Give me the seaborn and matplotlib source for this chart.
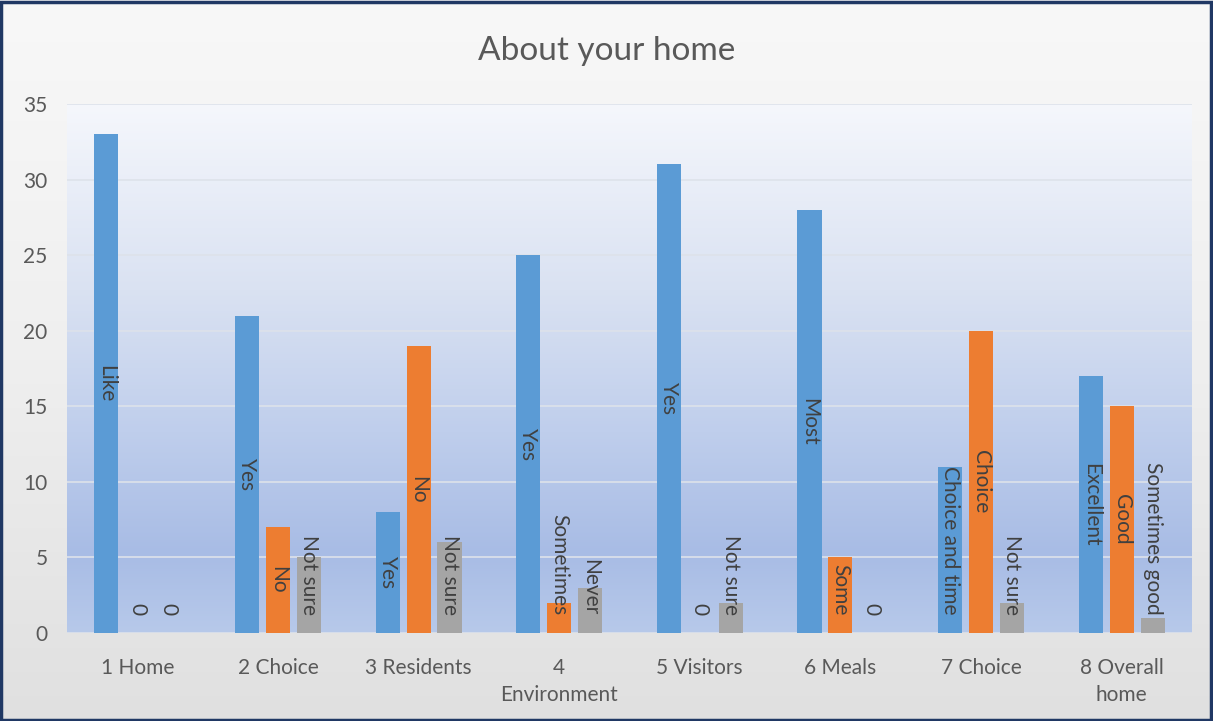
import numpy as np
import pandas as pd
import matplotlib
matplotlib.use("Agg")
import matplotlib.pyplot as plt
import seaborn as sns
from matplotlib.colors import LinearSegmentedColormap
from matplotlib.patches import Rectangle

# ---- data ----
categories = ["1 Home", "2 Choice", "3 Residents", "4\nEnvironment",
              "5 Visitors", "6 Meals", "7 Choice", "8 Overall\nhome"]
series_names = ["Series 1", "Series 2", "Series 3"]
values_1 = [33, 21, 8, 25, 31, 28, 11, 17]
values_2 = [0, 7, 19, 2, 0, 5, 20, 15]
values_3 = [0, 5, 6, 3, 2, 0, 2, 1]
labels_1 = ["Like", "Yes", "Yes", "Yes", "Yes", "Most", "Choice and time", "Excellent"]
labels_2 = ["0", "No", "No", "Sometimes", "0", "Some", "Choice", "Good"]
labels_3 = ["0", "Not sure", "Not sure", "Never", "Not sure", "0", "Not sure", "Sometimes good"]
colors = ["#5B9BD5", "#ED7D31", "#A5A5A5"]
title = "About your home"
yticks = [0, 5, 10, 15, 20, 25, 30, 35]

rows = []
for name, vals in zip(series_names, [values_1, values_2, values_3]):
    for c, v in zip(categories, vals):
        rows.append({"category": c, "series": name, "value": v})
df = pd.DataFrame(rows)

sns.set_style("white")
plt.rcParams["font.family"] = ["Lato", "DejaVu Sans"]

W, H = 1213, 721
fig = plt.figure(figsize=(W / 100, H / 100), dpi=100)

# figure background gradient
bg = fig.add_axes([0, 0, 1, 1])
bg.set_zorder(-10)
bg_cmap = LinearSegmentedColormap.from_list("bg", ["#f8f8f8", "#efefef", "#e0e0e0"])
bg.imshow(np.linspace(0, 1, 256).reshape(-1, 1), cmap=bg_cmap, aspect="auto",
          extent=(0, 1, 0, 1), origin="upper")
bg.axis("off")
bg.add_patch(Rectangle((0.001, 0.002), 0.997, 0.995, transform=bg.transAxes,
                       fill=False, edgecolor="#203864", linewidth=2.5))

left, right, top, bottom = 67, 1192, 104, 633
ax = fig.add_axes([left / W, (H - bottom) / H, (right - left) / W, (bottom - top) / H])
ax.patch.set_alpha(0)

sns.barplot(data=df, x="category", y="value", hue="series", palette=colors,
            width=0.66, gap=0.224, saturation=1, legend=False, ax=ax,
            errorbar=None, linewidth=0, edgecolor="none")

ax.set_xlim(-0.5, len(categories) - 0.5)
ax.set_ylim(0, 35)

# plot area gradient
pa_cmap = LinearSegmentedColormap.from_list(
    "pa", [(0.0, "#f5f7fc"), (0.35, "#dae2f2"), (0.62, "#bfceec"),
           (0.85, "#a8bce5"), (1.0, "#b7c9ea")])
ax.imshow(np.linspace(0, 1, 256).reshape(-1, 1), cmap=pa_cmap, aspect="auto",
          extent=(-0.5, len(categories) - 0.5, 0, 35), origin="upper", zorder=0.1)
ax.set_xlim(-0.5, len(categories) - 0.5)
ax.set_ylim(0, 35)

ax.set_yticks(yticks)
ax.yaxis.grid(True, color="#dde2ea", linewidth=1.2, zorder=0.5)
ax.xaxis.grid(False)
ax.set_axisbelow(True)
for s in ax.spines.values():
    s.set_visible(False)
ax.tick_params(axis="both", length=0, colors="#595959", labelsize=15)
ax.tick_params(axis="y", pad=14)
ax.tick_params(axis="x", pad=18)
ax.set_xlabel("")
ax.set_ylabel("")
for lbl in ax.get_xticklabels():
    lbl.set_linespacing(1.45)

fig.text(0.5, 1 - 51 / H, title, ha="center", va="center", fontsize=24, color="#595959")

# data labels
fig.canvas.draw()
r = fig.canvas.get_renderer()
ppu = ax.transData.transform((0, 1))[1] - ax.transData.transform((0, 0))[1]
for cont, labs in zip(ax.containers, [labels_1, labels_2, labels_3]):
    for bar, lab in zip(cont, labs):
        x = bar.get_x() + bar.get_width() / 2
        h = bar.get_height()
        t = ax.text(x, h / 2, lab, rotation=270, ha="center", va="center",
                    fontsize=15, color="#404040", zorder=5)
        ext = t.get_window_extent(r)
        half = ext.height / 2 / ppu
        pad = 18 / ppu
        t.set_y(max(h / 2, half + pad))

fig.savefig("out.png", dpi=100)
